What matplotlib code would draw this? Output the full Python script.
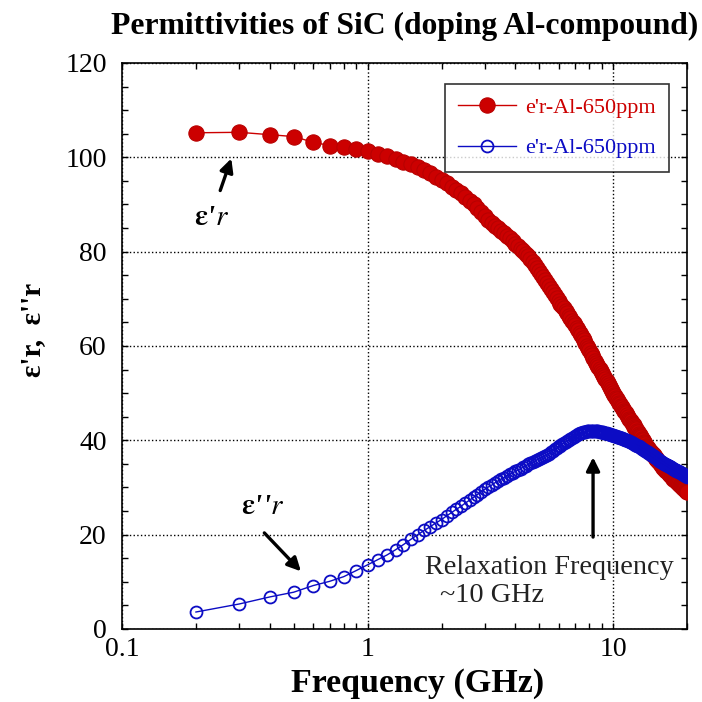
import matplotlib.pyplot as plt
from matplotlib.ticker import MultipleLocator, LogLocator, NullFormatter

# measured frequency points (GHz)
freq = [0.2, 0.3, 0.4, 0.5, 0.6, 0.7, 0.8, 0.9,
        1.0, 1.1, 1.2, 1.3, 1.4, 1.5, 1.6, 1.7, 1.8, 1.9,
        2.0, 2.1, 2.2, 2.3, 2.4, 2.5, 2.6, 2.7, 2.8, 2.9,
        3.0, 3.1, 3.2, 3.3, 3.4, 3.5, 3.6, 3.7, 3.8, 3.9,
        4.0, 4.1, 4.2, 4.3, 4.4, 4.5, 4.6, 4.7, 4.8, 4.9,
        5.0, 5.1, 5.2, 5.3, 5.4, 5.5, 5.6, 5.7, 5.8, 5.9,
        6.0, 6.1, 6.2, 6.3, 6.4, 6.5, 6.6, 6.7, 6.8, 6.9,
        7.0, 7.1, 7.2, 7.3, 7.4, 7.5, 7.6, 7.7, 7.8, 7.9,
        8.0, 8.1, 8.2, 8.3, 8.4, 8.5, 8.6, 8.7, 8.8, 8.9,
        9.0, 9.1, 9.2, 9.3, 9.4, 9.5, 9.6, 9.7, 9.8, 9.9,
        10.0, 10.1, 10.2, 10.3, 10.4, 10.5, 10.6, 10.7, 10.8, 10.9,
        11.0, 11.1, 11.2, 11.3, 11.4, 11.5, 11.6, 11.7, 11.8, 11.9,
        12.0, 12.1, 12.2, 12.3, 12.4, 12.5, 12.6, 12.7, 12.8, 12.9,
        13.0, 13.1, 13.2, 13.3, 13.4, 13.5, 13.6, 13.7, 13.8, 13.9,
        14.0, 14.1, 14.2, 14.3, 14.4, 14.5, 14.6, 14.7, 14.8, 14.9,
        15.0, 15.1, 15.2, 15.3, 15.4, 15.5, 15.6, 15.7, 15.8, 15.9,
        16.0, 16.1, 16.2, 16.3, 16.4, 16.5, 16.6, 16.7, 16.8, 16.9,
        17.0, 17.1, 17.2, 17.3, 17.4, 17.5, 17.6, 17.7, 17.8, 17.9,
        18.0, 18.1, 18.2, 18.3, 18.4, 18.5, 18.6, 18.7, 18.8, 18.9,
        19.0, 19.1, 19.2, 19.3, 19.4, 19.5, 19.6, 19.7, 19.8, 19.9,
        20.0]

# real part e'r
eps_real = [105.2, 105.3, 104.8, 104.4, 103.2, 102.5, 102.1, 101.8,
            101.3, 100.8, 100.2, 99.7, 99.1, 98.6, 98.0, 97.3, 96.6, 95.9,
            95.2, 94.5, 93.8, 93.1, 92.4, 91.6, 90.8, 90.0, 89.2, 88.4,
            87.6, 86.8, 86.0, 85.5, 85.0, 84.4, 83.9, 83.4, 82.8, 82.3,
            81.7, 81.2, 80.6, 80.1, 79.5, 79.0, 78.4, 77.8, 77.1, 76.5,
            75.9, 75.3, 74.6, 74.0, 73.4, 72.8, 72.1, 71.5, 70.9, 70.2,
            69.6, 69.0, 68.5, 68.0, 67.5, 67.0, 66.4, 65.9, 65.4, 64.9,
            64.4, 63.9, 63.4, 62.8, 62.3, 61.7, 61.2, 60.7, 60.1, 59.6,
            59.1, 58.5, 58.0, 57.5, 56.9, 56.4, 56.0, 55.5, 55.1, 54.7,
            54.3, 53.8, 53.4, 53.0, 52.6, 52.1, 51.7, 51.3, 50.9, 50.4,
            50.0, 49.7, 49.3, 49.0, 48.7, 48.3, 48.0, 47.7, 47.3, 47.0,
            46.7, 46.3, 46.0, 45.7, 45.3, 45.0, 44.6, 44.3, 44.0, 43.7,
            43.4, 43.2, 42.9, 42.6, 42.3, 42.0, 41.7, 41.4, 41.2, 40.9,
            40.6, 40.3, 40.0, 39.7, 39.5, 39.2, 38.9, 38.6, 38.4, 38.2,
            38.0, 37.8, 37.6, 37.4, 37.2, 37.0, 36.9, 36.7, 36.5, 36.3,
            36.1, 35.9, 35.7, 35.5, 35.3, 35.1, 35.0, 34.8, 34.6, 34.4,
            34.2, 34.1, 33.9, 33.8, 33.6, 33.5, 33.4, 33.2, 33.1, 32.9,
            32.8, 32.7, 32.5, 32.4, 32.2, 32.1, 31.9, 31.8, 31.7, 31.5,
            31.4, 31.3, 31.2, 31.1, 30.9, 30.8, 30.7, 30.6, 30.5, 30.4,
            30.3, 30.1, 30.0, 29.9, 29.8, 29.7, 29.6, 29.4, 29.3, 29.2,
            29.1]

# imaginary part e"r
eps_imag = [3.6, 5.3, 6.8, 7.8, 9.2, 10.1, 11.1, 12.4,
            13.6, 14.7, 15.7, 16.8, 17.9, 19.0, 20.0, 20.9, 21.7, 22.5,
            23.2, 24.0, 24.7, 25.4, 26.0, 26.7, 27.3, 27.9, 28.5, 29.1,
            29.6, 30.1, 30.5, 31.0, 31.4, 31.8, 32.1, 32.5, 32.8, 33.1,
            33.4, 33.7, 34.0, 34.3, 34.6, 34.9, 35.1, 35.4, 35.6, 35.9,
            36.1, 36.3, 36.5, 36.7, 36.9, 37.2, 37.5, 37.8, 38.1, 38.4,
            38.7, 38.9, 39.2, 39.4, 39.6, 39.9, 40.1, 40.3, 40.5, 40.7,
            40.9, 41.1, 41.3, 41.5, 41.6, 41.7, 41.8, 41.8, 41.9, 41.9,
            42.0, 42.0, 42.0, 42.0, 42.0, 42.0, 41.9, 41.9, 41.8, 41.8,
            41.7, 41.7, 41.6, 41.6, 41.5, 41.4, 41.4, 41.3, 41.2, 41.2,
            41.1, 41.0, 40.9, 40.9, 40.8, 40.7, 40.6, 40.5, 40.4, 40.4,
            40.3, 40.2, 40.1, 40.0, 40.0, 39.9, 39.8, 39.7, 39.6, 39.5,
            39.4, 39.3, 39.2, 39.1, 39.0, 38.9, 38.8, 38.7, 38.6, 38.5,
            38.4, 38.2, 38.1, 38.0, 37.9, 37.8, 37.7, 37.6, 37.5, 37.4,
            37.3, 37.2, 37.1, 36.9, 36.8, 36.7, 36.6, 36.5, 36.4, 36.3,
            36.2, 36.1, 36.0, 35.8, 35.7, 35.6, 35.5, 35.4, 35.3, 35.2,
            35.1, 35.0, 35.0, 34.9, 34.8, 34.8, 34.7, 34.6, 34.5, 34.5,
            34.4, 34.3, 34.3, 34.2, 34.1, 34.0, 34.0, 33.9, 33.8, 33.8,
            33.7, 33.6, 33.6, 33.5, 33.4, 33.3, 33.3, 33.2, 33.1, 33.1,
            33.0, 32.9, 32.8, 32.8, 32.7, 32.6, 32.6, 32.5, 32.4, 32.4,
            32.3]

series_labels = ["e'r-Al-650ppm", "e'r-Al-650ppm"]
x_ticks = [0.1, 1, 10]
x_tick_labels = ["0.1", "1", "10"]
y_ticks = [0, 20, 40, 60, 80, 100, 120]

RED = '#cc0000'
BLUE = '#0c0cc4'

plt.rcParams['font.family'] = ['Liberation Serif', 'DejaVu Serif']
plt.rcParams['mathtext.fontset'] = 'stix'

fig = plt.figure(figsize=(7.02, 7.02), dpi=100)
ax = fig.add_axes([0.1738, 0.104, 0.805, 0.8063])

ax.plot(freq, eps_real, '-', color=RED, lw=1, marker='o', ms=11,
        mfc=RED, mec='#b80000', mew=0.8, label=series_labels[0], zorder=3)
ax.plot(freq, eps_imag, '-', color=BLUE, lw=1, marker='o', ms=8.6,
        mfc='none', mec=BLUE, mew=1.3, label=series_labels[1], zorder=4)

ax.set_xscale('log')
ax.set_xlim(0.1, 20)
ax.set_ylim(0, 120)
ax.set_xticks(x_ticks)
ax.set_xticklabels(x_tick_labels)
ax.xaxis.set_minor_locator(LogLocator(base=10, subs=range(2, 10)))
ax.xaxis.set_minor_formatter(NullFormatter())
ax.set_yticks(y_ticks)
ax.yaxis.set_minor_locator(MultipleLocator(5))

ax.tick_params(which='both', direction='in', top=True, right=True,
               length=4, width=1, labelsize=20, color='black')
ax.tick_params(axis='x', pad=6)
ax.tick_params(axis='y', pad=11)
ax.grid(True, which='major', linestyle=':', color='black', linewidth=1)
for sp in ax.spines.values():
    sp.set_linewidth(1.2)

fig.text(0.595, 0.027, 'Frequency (GHz)', fontsize=24.5, fontweight='bold',
         ha='center', va='center')
fig.text(0.046, 0.53, "ε'r,  ε''r", rotation=90, fontsize=21,
         fontweight='bold', ha='center', va='center')
fig.text(0.577, 0.962, 'Permittivities of SiC (doping Al-compound)',
         fontsize=22.8, fontweight='bold', ha='center', va='center')

# annotations
ax.annotate('', xy=(0.281, 100.3), xytext=(0.249, 92.4),
            arrowprops=dict(arrowstyle='-|>', color='black', lw=2.4,
                            mutation_scale=20))
ax.text(0.231, 87.3, "$\\mathbf{\\varepsilon}$'$\\mathit{r}$", fontsize=21,
        fontweight='bold', style='italic', ha='center', va='center')
ax.annotate('', xy=(0.545, 11.8), xytext=(0.373, 20.8),
            arrowprops=dict(arrowstyle='-|>', color='black', lw=2.4,
                            mutation_scale=20))
ax.text(0.373, 25.9, "$\\mathbf{\\varepsilon}$''$\\mathit{r}$", fontsize=21,
        fontweight='bold', style='italic', ha='center', va='center')
ax.annotate('', xy=(8.28, 37.0), xytext=(8.28, 18.9),
            arrowprops=dict(arrowstyle='-|>', color='black', lw=2.4,
                            mutation_scale=20))
ax.text(1.72, 13.1, 'Relaxation Frequency', fontsize=20.3, ha='left',
        va='center', color='#222222')
ax.text(1.98, 7.0, '~10 GHz', fontsize=20.3, ha='left', va='center',
        color='#222222')

leg = ax.legend(loc='upper right', bbox_to_anchor=(0.968, 0.963),
                fontsize=16, frameon=True, fancybox=False, edgecolor='black',
                borderpad=0.6, labelspacing=0.9, handlelength=2.6,
                handletextpad=0.4, borderaxespad=0)
leg.get_frame().set_linewidth(1.2)
for txt, col in zip(leg.get_texts(), [RED, BLUE]):
    txt.set_color(col)

fig.savefig('out.png', dpi=100, facecolor='white')
